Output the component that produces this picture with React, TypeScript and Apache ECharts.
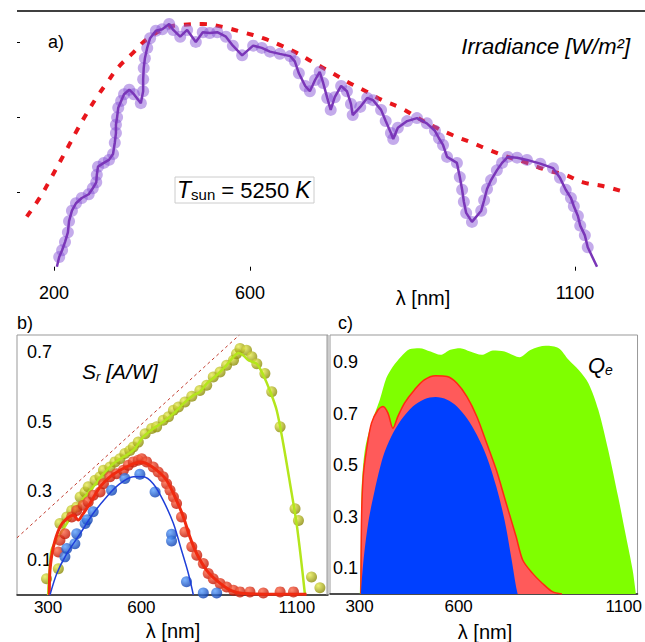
import React, { useEffect, useRef } from "react";
import * as echarts from "echarts";

const FONT = "'Liberation Sans', Arial, sans-serif";

// ---------- Panel a: irradiance ----------
const aTickValues = [200, 538.6, 1100];
const aTickLabels = ["200", "600", "1100"];
const aYTicks = [1, 2, 3];
const irradiance = [
  [205, 0.0], [209, 0.13], [214, 0.22], [219, 0.33], [224, 0.46], [226, 0.61], [231, 0.75], [238, 0.85],
  [248, 0.92], [260, 0.97], [267, 1.05], [273, 1.13], [274, 1.23], [276, 1.34], [286, 1.39], [295, 1.43],
  [302, 1.51], [305, 1.66], [307, 1.79], [307, 1.9], [309, 2.0], [311, 2.13], [316, 2.22], [321, 2.31],
  [330, 2.37], [338, 2.31], [350, 2.19], [354, 2.35], [354, 2.51], [355, 2.66], [357, 2.79], [361, 2.93],
  [366, 3.06], [376, 3.16], [387, 3.18], [399, 3.25], [406, 3.17], [418, 3.08], [430, 3.17], [445, 3.01],
  [457, 3.14], [469, 3.13], [482, 3.14], [497, 3.08], [509, 2.96], [525, 2.83], [544, 2.96], [559, 2.93],
  [573, 2.88], [590, 2.85], [608, 2.82], [616, 2.75], [623, 2.59], [634, 2.42], [642, 2.35], [651, 2.5],
  [659, 2.61], [665, 2.46], [672, 2.26], [678, 2.1], [685, 2.27], [696, 2.42], [706, 2.35], [713, 2.18],
  [716, 2.03], [729, 2.14], [741, 2.26], [751, 2.23], [765, 2.1], [773, 1.95], [782, 1.79], [786, 1.71],
  [794, 1.86], [810, 1.95], [827, 1.99], [844, 1.92], [858, 1.82], [865, 1.72], [872, 1.63], [879, 1.47],
  [896, 1.39], [901, 1.2], [905, 1.03], [908, 0.87], [912, 0.72], [922, 0.6], [938, 0.75], [943, 0.89],
  [948, 1.04], [955, 1.16], [965, 1.29], [974, 1.39], [984, 1.47], [1000, 1.46], [1017, 1.43], [1040, 1.38],
  [1062, 1.32], [1074, 1.19], [1084, 1.03], [1093, 0.92], [1098, 0.81], [1105, 0.68], [1109, 0.55],
  [1117, 0.42], [1122, 0.26], [1138, 0.0],
];
const blackbody = [
  [153, 0.67], [176, 0.93], [193, 1.16], [224, 1.6], [240, 1.83], [257, 2.06], [274, 2.27], [292, 2.47],
  [311, 2.67], [336, 2.86], [361, 3.05], [395, 3.2], [423, 3.24], [457, 3.25], [492, 3.21], [526, 3.14],
  [561, 3.06], [590, 2.97], [620, 2.86], [647, 2.74], [677, 2.61], [708, 2.47], [741, 2.34], [767, 2.23],
  [798, 2.13], [829, 1.99], [858, 1.87], [889, 1.76], [922, 1.66], [953, 1.56], [984, 1.47], [1017, 1.39],
  [1052, 1.29], [1083, 1.23], [1114, 1.13], [1148, 1.08], [1181, 1.01],
];

// ---------- Panel b: spectral responsivity ----------
const bXTicks = [300, 600, 1100];
const bYTicks = [0.1, 0.3, 0.5, 0.7];
const idealLine = [[200, 0.165], [915, 0.75]];
const greenPts = [
  [295, 0.047], [333, 0.076], [338, 0.206], [360, 0.225], [376, 0.244], [392, 0.254], [403, 0.283],
  [419, 0.297], [429, 0.312], [451, 0.331], [467, 0.341], [478, 0.36], [499, 0.369], [515, 0.384],
  [531, 0.393], [547, 0.408], [563, 0.417], [574, 0.427], [590, 0.441], [612, 0.465], [633, 0.48],
  [649, 0.485], [670, 0.504], [687, 0.514], [703, 0.533], [719, 0.542], [740, 0.557], [762, 0.573],
  [788, 0.59], [810, 0.605], [831, 0.629], [853, 0.643], [874, 0.663], [896, 0.677], [906, 0.696],
  [917, 0.711], [938, 0.706], [955, 0.687], [971, 0.667], [997, 0.639], [1019, 0.586], [1046, 0.485],
  [1094, 0.249], [1105, 0.215], [1147, 0.052], [1174, 0.021],
];
const greenFit = [
  [300, 0.0], [304, 0.062], [311, 0.129], [333, 0.167], [360, 0.206], [386, 0.244], [413, 0.278],
  [445, 0.312], [478, 0.35], [510, 0.379], [542, 0.398], [574, 0.417], [606, 0.456], [638, 0.48],
  [670, 0.499], [703, 0.523], [735, 0.552], [767, 0.576], [788, 0.586], [810, 0.61], [842, 0.634],
  [874, 0.663], [896, 0.687], [912, 0.698], [928, 0.691], [944, 0.677], [971, 0.667], [992, 0.634],
  [1013, 0.59], [1035, 0.533], [1056, 0.437], [1078, 0.321], [1099, 0.206], [1115, 0.09], [1126, 0.0],
];
const redPts = [
  [333, 0.124], [338, 0.158], [354, 0.177], [376, 0.225], [392, 0.244], [413, 0.259], [429, 0.268],
  [445, 0.288], [467, 0.297], [478, 0.321], [499, 0.341], [520, 0.35], [542, 0.36], [558, 0.374],
  [574, 0.384], [590, 0.389], [601, 0.393], [617, 0.384], [638, 0.369], [654, 0.355], [670, 0.341],
  [681, 0.321], [692, 0.302], [703, 0.283], [713, 0.264], [729, 0.225], [740, 0.182], [762, 0.139],
  [778, 0.115], [799, 0.091], [815, 0.062], [831, 0.047], [853, 0.033], [874, 0.023], [896, 0.014],
  [917, 0.009], [949, 0.009], [992, 0.006], [1046, 0.009], [1089, 0.009],
];
const redFit = [
  [304, 0.0], [306, 0.071], [317, 0.139], [338, 0.196], [360, 0.22], [381, 0.23], [397, 0.216],
  [413, 0.235], [435, 0.264], [467, 0.312], [499, 0.341], [531, 0.36], [563, 0.374], [595, 0.384],
  [617, 0.379], [649, 0.36], [681, 0.331], [713, 0.273], [735, 0.225], [756, 0.167], [778, 0.119],
  [810, 0.071], [842, 0.042], [885, 0.014], [928, 0.004], [1131, 0.002],
];
const bluePts = [
  [354, 0.11], [360, 0.134], [386, 0.148], [392, 0.177], [419, 0.206], [426, 0.217], [445, 0.24],
  [504, 0.302], [547, 0.336], [595, 0.348], [644, 0.297], [697, 0.175], [697, 0.156], [745, 0.038],
  [799, 0.006], [842, 0.006],
];
const blueFit = [
  [306, 0.0], [328, 0.062], [360, 0.119], [403, 0.177], [445, 0.235], [488, 0.283], [531, 0.321],
  [574, 0.341], [606, 0.341], [638, 0.321], [670, 0.273], [703, 0.206], [729, 0.129], [751, 0.062],
  [767, 0.0],
];

// ---------- Panel c: quantum efficiency ----------
const cXTicks = [300, 600, 1100];
const cYTicks = [0.1, 0.3, 0.5, 0.7, 0.9];
const qeGreen = [
  [301, 0.0], [304, 0.197], [306, 0.404], [316, 0.559], [336, 0.663], [361, 0.753], [381, 0.838],
  [401, 0.883], [426, 0.922], [451, 0.95], [481, 0.954], [515, 0.941], [545, 0.928], [575, 0.948],
  [605, 0.954], [635, 0.941], [670, 0.928], [704, 0.945], [739, 0.941], [784, 0.919], [819, 0.948],
  [864, 0.963], [903, 0.954], [933, 0.909], [963, 0.87], [993, 0.818], [1023, 0.715], [1053, 0.559],
  [1083, 0.378], [1107, 0.223], [1127, 0.093], [1137, 0.0],
];
const qeRed = [
  [304, 0.0], [306, 0.3], [311, 0.456], [321, 0.559], [336, 0.663], [356, 0.715], [371, 0.728],
  [386, 0.702], [401, 0.643], [416, 0.689], [436, 0.741], [466, 0.792], [496, 0.831], [530, 0.847],
  [565, 0.844], [595, 0.818], [625, 0.766], [655, 0.689], [685, 0.585], [714, 0.482], [744, 0.352],
  [774, 0.223], [794, 0.132], [824, 0.08], [854, 0.041], [884, 0.009], [913, 0.0],
];
const qeBlue = [
  [304, 0.0], [311, 0.119], [326, 0.275], [346, 0.404], [371, 0.533], [396, 0.611], [426, 0.676],
  [461, 0.728], [496, 0.756], [530, 0.764], [565, 0.754], [595, 0.728], [625, 0.682], [655, 0.618],
  [685, 0.533], [714, 0.417], [739, 0.287], [759, 0.145], [774, 0.028], [779, 0.0],
];

function ball(light: string, dark: string) {
  return new echarts.graphic.RadialGradient(0.35, 0.32, 0.7, [
    { offset: 0, color: light },
    { offset: 1, color: dark },
  ]);
}

export default function App() {
  const ref = useRef<HTMLDivElement>(null);
  useEffect(() => {
    document.body.style.margin = "0";
    if (!ref.current) return;
    const chart = echarts.init(ref.current, undefined, { renderer: "svg" });
    const lab = (size: number) => ({ color: "#000", fontSize: size, fontFamily: FONT });
    const hiddenSplit = { show: false };
    const plain = (v: number) => String(v);

    const option: any = {
      animation: false,
      backgroundColor: "#fff",
      grid: [
        { left: 17, top: 11, width: 628, height: 264 },
        { left: 17, top: 335, width: 311, height: 260, show: true, borderColor: "#999", borderWidth: 1 },
        { left: 330, top: 335, width: 312, height: 259, show: true, borderColor: "#999", borderWidth: 1 },
      ],
      xAxis: [
        {
          gridIndex: 0, type: "value", min: 136.1, max: 1220.9,
          axisLine: { show: false },
          axisTick: { show: true, customValues: aTickValues, length: 4, lineStyle: { color: "#000" } },
          axisLabel: {
            ...lab(18), margin: 9, customValues: aTickValues,
            formatter: (v: number) => {
              const i = aTickValues.findIndex((t) => Math.abs(t - v) < 1);
              return i >= 0 ? aTickLabels[i] : "";
            },
          },
          splitLine: hiddenSplit,
        },
        {
          gridIndex: 1, type: "value", min: 200, max: 1200,
          axisLine: { show: true, lineStyle: { color: "#222", width: 1.5 } },
          axisTick: { show: false },
          axisLabel: { ...lab(17), margin: 4, customValues: bXTicks, formatter: plain },
          splitLine: hiddenSplit,
        },
        {
          gridIndex: 2, type: "value", min: 210.4, max: 1141.8,
          axisLine: { show: true, lineStyle: { color: "#222", width: 1.5 } },
          axisTick: { show: false },
          axisLabel: { ...lab(17), margin: 4, customValues: cXTicks, formatter: plain },
          splitLine: hiddenSplit,
        },
      ],
      yAxis: [
        {
          gridIndex: 0, type: "value", min: -0.111, max: 3.424,
          axisLine: { show: false },
          axisTick: { show: true, inside: true, length: 3, customValues: aYTicks, lineStyle: { color: "#000" } },
          axisLabel: { show: false },
          splitLine: hiddenSplit,
        },
        {
          gridIndex: 1, type: "value", min: 0, max: 0.75,
          axisLine: { show: false },
          axisTick: { show: false },
          axisLabel: { ...lab(18), inside: true, margin: 10, customValues: bYTicks, formatter: (v: number) => v.toFixed(1) },
          splitLine: hiddenSplit,
        },
        {
          gridIndex: 2, type: "value", min: 0, max: 1.005,
          axisLine: { show: false },
          axisTick: { show: false },
          axisLabel: { ...lab(18), inside: true, margin: 3, customValues: cYTicks, formatter: (v: number) => v.toFixed(1) },
          splitLine: hiddenSplit,
        },
      ],
      series: [
        // panel a
        {
          type: "line", xAxisIndex: 0, yAxisIndex: 0, data: blackbody, smooth: 0.4, showSymbol: false,
          lineStyle: { color: "#e8161c", width: 4, type: [7, 9] }, z: 2,
        },
        {
          type: "scatter", xAxisIndex: 0, yAxisIndex: 0, data: irradiance.slice(1, -1), symbolSize: 12,
          itemStyle: { color: "rgba(135,85,215,0.62)" }, z: 3,
        },
        {
          type: "line", xAxisIndex: 0, yAxisIndex: 0, data: irradiance, showSymbol: false,
          lineStyle: { color: "#7a36b8", width: 2.5 }, z: 4,
        },
        // panel b
        {
          type: "line", xAxisIndex: 1, yAxisIndex: 1, data: idealLine, showSymbol: false,
          lineStyle: { color: "#c0392b", width: 1, type: [3, 3] }, z: 2,
        },
        {
          type: "scatter", xAxisIndex: 1, yAxisIndex: 1, data: greenPts, symbolSize: 11,
          itemStyle: { color: ball("#e8ee50", "#8a8a08") }, z: 3,
        },
        {
          type: "line", xAxisIndex: 1, yAxisIndex: 1, data: greenFit, smooth: 0.3, showSymbol: false,
          lineStyle: { color: "#b4e61c", width: 2.5 }, z: 4,
        },
        {
          type: "scatter", xAxisIndex: 1, yAxisIndex: 1, data: redPts, symbolSize: 11,
          itemStyle: { color: ball("#ff6a4a", "#c01200") }, z: 5,
        },
        {
          type: "line", xAxisIndex: 1, yAxisIndex: 1, data: redFit, smooth: 0.3, showSymbol: false,
          lineStyle: { color: "#f02a10", width: 3 }, z: 6,
        },
        {
          type: "scatter", xAxisIndex: 1, yAxisIndex: 1, data: bluePts, symbolSize: 11,
          itemStyle: { color: ball("#5aa0ff", "#0d3fb0") }, z: 7,
        },
        {
          type: "line", xAxisIndex: 1, yAxisIndex: 1, data: blueFit, smooth: 0.3, showSymbol: false,
          lineStyle: { color: "#1f3fd8", width: 1.5 }, z: 8,
        },
        // panel c
        {
          type: "line", xAxisIndex: 2, yAxisIndex: 2, data: qeGreen, smooth: 0.3, showSymbol: false,
          lineStyle: { width: 0 }, areaStyle: { color: "#7fff00", opacity: 1 }, z: 2,
        },
        {
          type: "line", xAxisIndex: 2, yAxisIndex: 2, data: qeRed, smooth: 0.3, showSymbol: false,
          lineStyle: { color: "#ff2a10", width: 1.5 }, areaStyle: { color: "#ff5a5a", opacity: 1 }, z: 3,
        },
        {
          type: "line", xAxisIndex: 2, yAxisIndex: 2, data: qeBlue, smooth: 0.3, showSymbol: false,
          lineStyle: { width: 0 }, areaStyle: { color: "#0040ff", opacity: 1 }, z: 4,
        },
      ],
      graphic: [
        { type: "line", shape: { x1: 17, y1: 11, x2: 645, y2: 11 }, style: { stroke: "#000", lineWidth: 1.5 }, z: 10 },
        { type: "line", shape: { x1: 327, y1: 335, x2: 327, y2: 595 }, style: { stroke: "#999", lineWidth: 1 }, z: 10 },
        { type: "text", x: 48, y: 42, style: { text: "a)", fontSize: 18, fontFamily: FONT, fill: "#000", verticalAlign: "middle" } },
        {
          type: "text", x: 630, y: 46,
          style: { text: "Irradiance [W/m²]", fontSize: 22, fontStyle: "italic", fontFamily: FONT, fill: "#000", align: "right", verticalAlign: "middle" },
        },
        { type: "rect", shape: { x: 175, y: 177, width: 139, height: 26 }, style: { fill: "#fff", stroke: "#ccc", lineWidth: 1 }, z: 10 },
        {
          type: "text", x: 177, y: 190, z: 11,
          style: {
            text: "{t|T}{s|sun}{n| = 5250 }{t|K}",
            verticalAlign: "middle",
            rich: {
              t: { fontSize: 23, fontStyle: "italic", fontFamily: FONT, fill: "#000", lineHeight: 24 },
              s: { fontSize: 15, fontFamily: FONT, fill: "#000", verticalAlign: "bottom", lineHeight: 14 },
              n: { fontSize: 22, fontFamily: FONT, fill: "#000", lineHeight: 24 },
            },
          },
        },
        {
          type: "text", x: 423, y: 298,
          style: { text: "λ [nm]", fontSize: 20, fontFamily: FONT, fill: "#000", align: "center", verticalAlign: "middle" },
        },
        { type: "text", x: 17, y: 323, style: { text: "b)", fontSize: 18, fontFamily: FONT, fill: "#000", verticalAlign: "middle" } },
        {
          type: "text", x: 82, y: 371, z: 11,
          style: {
            text: "{t|S}{s|r}{t| [A/W]}",
            verticalAlign: "middle",
            rich: {
              t: { fontSize: 21, fontStyle: "italic", fontFamily: FONT, fill: "#000", lineHeight: 24 },
              s: { fontSize: 13, fontStyle: "italic", fontFamily: FONT, fill: "#000", verticalAlign: "bottom", lineHeight: 13 },
            },
          },
        },
        {
          type: "text", x: 173, y: 631,
          style: { text: "λ [nm]", fontSize: 20, fontFamily: FONT, fill: "#000", align: "center", verticalAlign: "middle" },
        },
        { type: "text", x: 338, y: 323, style: { text: "c)", fontSize: 18, fontFamily: FONT, fill: "#000", verticalAlign: "middle" } },
        {
          type: "text", x: 588, y: 365, z: 11,
          style: {
            text: "{t|Q}{s|e}",
            verticalAlign: "middle",
            rich: {
              t: { fontSize: 22, fontStyle: "italic", fontFamily: FONT, fill: "#000", lineHeight: 24 },
              s: { fontSize: 14, fontStyle: "italic", fontFamily: FONT, fill: "#000", verticalAlign: "bottom", lineHeight: 14 },
            },
          },
        },
        {
          type: "text", x: 485, y: 632,
          style: { text: "λ [nm]", fontSize: 20, fontFamily: FONT, fill: "#000", align: "center", verticalAlign: "middle" },
        },
      ],
    };
    chart.setOption(option);
    return () => chart.dispose();
  }, []);
  return <div ref={ref} style={{ width: 645, height: 642 }} />;
}
